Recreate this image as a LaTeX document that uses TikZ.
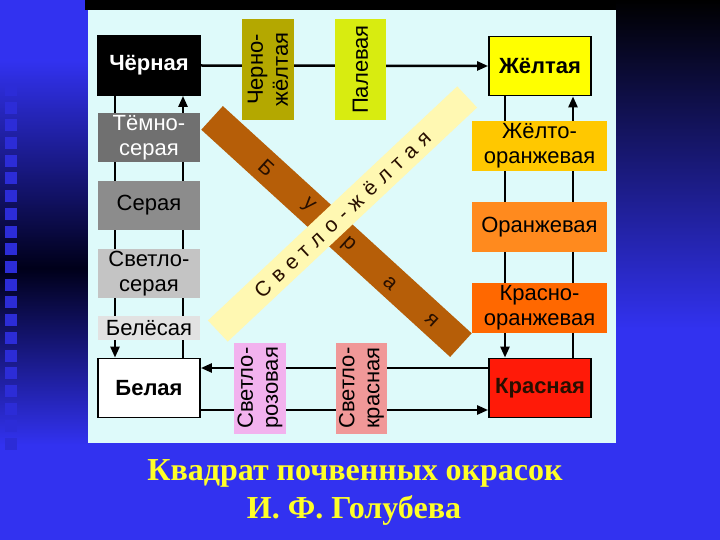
\documentclass[tikz,border=0pt]{standalone}
\usepackage{fontspec}
\setmainfont{Liberation Sans}
\newfontfamily\titlefont{Liberation Serif}
\newfontfamily\spacedfont[LetterSpace=34]{Liberation Sans}
\usetikzlibrary{arrows.meta,calc}
\definecolor{bgblue}{RGB}{50,50,240}
\definecolor{sqblue}{RGB}{44,44,215}
\definecolor{panelc}{RGB}{222,250,250}
\definecolor{olivec}{RGB}{180,168,0}
\definecolor{palec}{RGB}{216,236,16}
\definecolor{yelc}{RGB}{255,255,0}
\definecolor{redc}{RGB}{255,26,8}
\definecolor{dgray}{RGB}{112,112,112}
\definecolor{mgray}{RGB}{140,140,140}
\definecolor{lgray}{RGB}{196,196,196}
\definecolor{wgray}{RGB}{226,226,226}
\definecolor{yorange}{RGB}{255,200,0}
\definecolor{orangec}{RGB}{255,138,30}
\definecolor{rorange}{RGB}{255,104,0}
\definecolor{pinkc}{RGB}{242,178,238}
\definecolor{lredc}{RGB}{240,152,152}
\definecolor{brownc}{RGB}{182,94,8}
\definecolor{ltyel}{RGB}{255,248,178}
\definecolor{darkt}{RGB}{40,15,0}
\definecolor{titlec}{RGB}{255,255,40}
\tikzset{
  box/.style={rectangle, inner sep=0pt, align=center, font=\fontsize{22}{25}\selectfont},
  corner/.style={box, draw=black, line width=1.8pt, font=\fontsize{22}{25}\selectfont\bfseries, minimum width=102pt, minimum height=59pt},
  lbox/.style={box, minimum width=102pt, minimum height=49pt},
  rbox/.style={box, minimum width=135pt, minimum height=50pt},
  vbox/.style={box, rotate=90, minimum width=101pt, minimum height=52pt},
  arr/.style={line width=2.5pt, -{Triangle[length=11pt,width=9pt]}},
  bandletter/.style={inner sep=0pt, text=darkt, font=\fontsize{21}{21}\selectfont, rotate=-42.4},
  titletext/.style={anchor=base, text=titlec, font=\fontsize{32}{36}\titlefont\bfseries},
}
\begin{document}
\begin{tikzpicture}[x=1pt,y=-1pt]
\useasboundingbox (0,0) rectangle (720,540);
% background
\fill[bgblue] (0,0) rectangle (720,540);
\shade[top color=bgblue, bottom color=black!90!blue] (0,60) rectangle (88,268);
\shade[top color=black!90!blue, bottom color=bgblue] (0,268) rectangle (88,445);
\shade[top color=black, bottom color=bgblue] (616,0) rectangle (720,330);
\fill[black] (85,0) rectangle (616,10);
\foreach \i in {0,...,20} \fill[sqblue] (5,{84+17.7*\i}) rectangle (17,{96+17.7*\i});
% panel
\fill[panelc] (88,10) rectangle (616,443);
% corner boxes
\node[corner, fill=black, text=white] (cher) at (149,65.5) {Чёрная};
\node[corner, fill=yelc] (zhel) at (540,66) {Жёлтая};
\node[corner, fill=white] (bel) at (149,388) {Белая};
\node[corner, fill=redc, text=darkt] (kras) at (540,388) {Красная};
% connectors
\draw[arr] (cher.east) -- (zhel.west);
\draw[arr] ([xshift=-34pt]cher.south) -- ([xshift=-34pt]bel.north);
\draw[arr] ([xshift=34pt]bel.north) -- ([xshift=34pt]cher.south);
\draw[arr] ([xshift=-35pt]zhel.south) -- ([xshift=-35pt]kras.north);
\draw[arr] ([xshift=33pt]kras.north) -- ([xshift=33pt]zhel.south);
\draw[arr] ([yshift=20pt]kras.west) -- ([yshift=20pt]bel.east);
\draw[arr] ([yshift=-22pt]bel.east) -- ([yshift=-22pt]kras.west);
% left column
\node[lbox, fill=dgray, text=white] (tems) at (149,137.5) {Тёмно-\\серая};
\node[lbox, fill=mgray] (ser) at (149,205.5) {Серая};
\node[lbox, fill=lgray] (svs) at (149,273.5) {Светло-\\серая};
\node[box, fill=wgray, minimum width=102pt, minimum height=24pt] (beles) at (149,328) {Белёсая};
% right column
\node[rbox, fill=yorange] (zhor) at (539.5,146) {Жёлто-\\оранжевая};
\node[rbox, fill=orangec] (oran) at (539.5,227) {Оранжевая};
\node[rbox, fill=rorange] (kror) at (539.5,307.5) {Красно-\\оранжевая};
% vertical boxes
\node[vbox, fill=olivec] (chzh) at (268,69.5) {Черно-\\жёлтая};
\node[vbox, fill=palec, minimum height=51pt] (pal) at (360.5,69.5) {Палевая};
\node[vbox, fill=pinkc, minimum width=91pt] (svroz) at (260,388) {Светло-\\розовая};
\node[vbox, fill=lredc, minimum width=91pt, minimum height=51pt] (svkr) at (361.5,388) {Светло-\\красная};
% brown band
\node[rectangle, fill=brownc, rotate=-42.4, minimum width=337pt, minimum height=32pt, inner sep=0pt] (bur) at (336.5,231.5) {};
\node[bandletter] (b1) at (266.7,168.3) {Б};
\node[bandletter] (b2) at (308,206) {у};
\node[bandletter] (b3) at (348,245) {р};
\node[bandletter] (b4) at (390,283) {а};
\node[bandletter] (b5) at (431.7,320) {я};
% light yellow band
\node[rectangle, fill=ltyel, rotate=43.2, minimum width=342pt, minimum height=29pt, inner sep=0pt, text=darkt, font=\fontsize{21}{21}\spacedfont] (svzh) at (342.5,214) {Светло-жёлтая};
% title
\node[titletext] (t1) at (355,480) {Квадрат почвенных окрасок};
\node[titletext] (t2) at (354,518) {И. Ф. Голубева};
\end{tikzpicture}
\end{document}
